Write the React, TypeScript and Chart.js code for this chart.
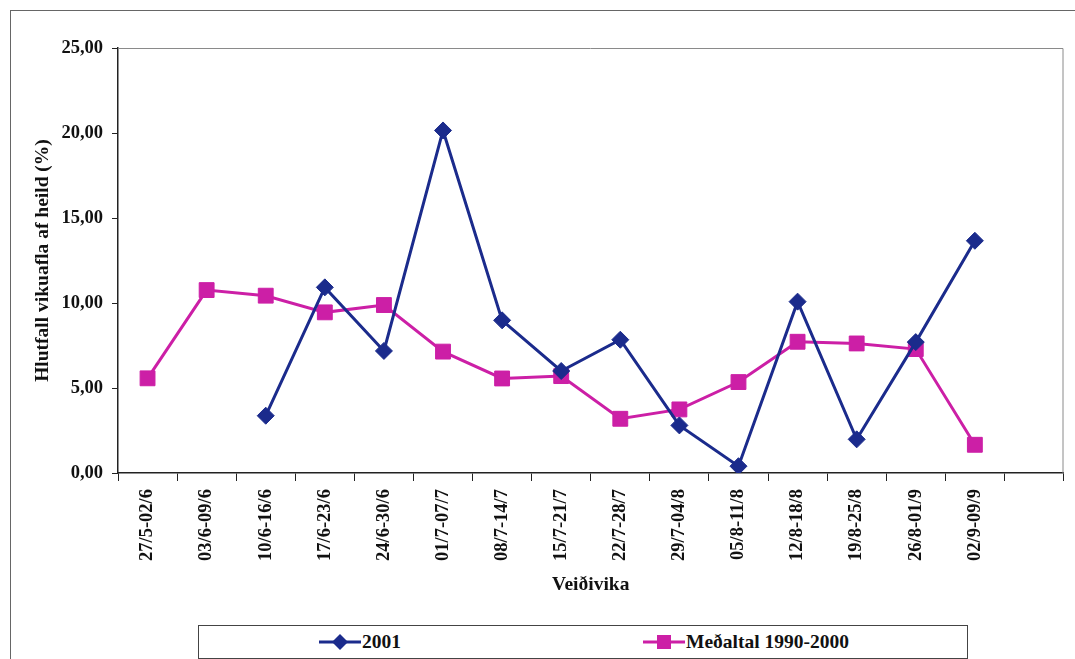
import React, { useEffect, useRef } from 'react';
import { Chart, registerables } from 'chart.js';

Chart.register(...registerables);

// ---- data ----
const categories: string[] = [
  '27/5-02/6', '03/6-09/6', '10/6-16/6', '17/6-23/6', '24/6-30/6', '01/7-07/7',
  '08/7-14/7', '15/7-21/7', '22/7-28/7', '29/7-04/8', '05/8-11/8', '12/8-18/8',
  '19/8-25/8', '26/8-01/9', '02/9-09/9', '',
];
const series2001: (number | null)[] = [
  null, null, 3.37, 10.92, 7.18, 20.15, 8.98, 6.0, 7.84, 2.8, 0.4, 10.08, 1.98, 7.7, 13.66, null,
];
const seriesMean: (number | null)[] = [
  5.57, 10.76, 10.43, 9.45, 9.88, 7.14, 5.56, 5.7, 3.19, 3.74, 5.35, 7.72, 7.62, 7.29, 1.66, null,
];
const label2001 = '2001';
const labelMean = 'Meðaltal 1990-2000';
const yMin = 0;
const yMax = 25;
const yStep = 5;
const xTitle = 'Veiðivika';
const yTitle = 'Hlutfall vikuafla af heild (%)';

const NAVY = '#1b2b8c';
const MAGENTA = '#cc1fa6';
const FONT = '"Liberation Serif", "Times New Roman", serif';

const W = 1075;
const H = 659;
const AREA = { left: 118, top: 48, right: 1072, bottom: 473 };

const framePlugin = {
  id: 'frame',
  beforeDatasetsDraw(chart: any) {
    const { ctx, chartArea } = chart;
    ctx.save();
    ctx.strokeStyle = '#8a8a8a';
    ctx.lineWidth = 1;
    ctx.beginPath();
    ctx.moveTo(chartArea.left, chartArea.top + 0.5);
    ctx.lineTo(chartArea.right - 0.5, chartArea.top + 0.5);
    ctx.lineTo(chartArea.right - 0.5, chartArea.bottom);
    ctx.stroke();
    ctx.restore();
  },
};

function LegendSample({ color, shape }: { color: string; shape: 'diamond' | 'square' }) {
  return (
    <svg width={42} height={20} style={{ display: 'block' }}>
      <line x1={0} y1={10} x2={42} y2={10} stroke={color} strokeWidth={3} />
      {shape === 'diamond' ? (
        <polygon points="21,2 29,10 21,18 13,10" fill={color} />
      ) : (
        <rect x={14} y={3} width={14} height={14} fill={color} />
      )}
    </svg>
  );
}

export default function App() {
  const ref = useRef<HTMLCanvasElement | null>(null);

  useEffect(() => {
    if (!ref.current) return;
    const chart = new Chart(ref.current, {
      type: 'line',
      data: {
        labels: categories,
        datasets: [
          {
            label: label2001,
            data: series2001,
            borderColor: NAVY,
            backgroundColor: NAVY,
            borderWidth: 3,
            pointStyle: 'rectRot',
            pointRadius: 8.5,
            pointBorderWidth: 1,
            tension: 0,
            spanGaps: false,
          },
          {
            label: labelMean,
            data: seriesMean,
            borderColor: MAGENTA,
            backgroundColor: MAGENTA,
            borderWidth: 3,
            pointStyle: 'rect',
            pointRadius: 10.5,
            pointBorderWidth: 1,
            tension: 0,
          },
        ],
      },
      options: {
        animation: false,
        responsive: false,
        maintainAspectRatio: false,
        layout: { padding: { left: 0, top: AREA.top, right: W - AREA.right, bottom: 0 } },
        plugins: {
          legend: { display: false },
          tooltip: { enabled: false },
        },
        scales: {
          x: {
            type: 'category',
            offset: true,
            grid: {
              offset: true,
              drawOnChartArea: false,
              drawTicks: true,
              tickLength: 8,
              color: '#222',
              lineWidth: 1,
            },
            border: { display: true, color: '#222', width: 1.5 },
            ticks: {
              autoSkip: false,
              maxRotation: 90,
              minRotation: 90,
              padding: 8,
              color: '#111',
              font: { family: FONT, size: 18.5, weight: 'bold' },
            },
            title: {
              display: true,
              text: xTitle,
              color: '#111',
              font: { family: FONT, size: 19.5, weight: 'bold' },
              padding: { top: 0, bottom: 62 },
            },
            afterFit: (s: any) => {
              s.height = H - AREA.bottom;
            },
          },
          y: {
            min: yMin,
            max: yMax,
            grid: {
              drawOnChartArea: false,
              drawTicks: true,
              tickLength: 6,
              color: '#222',
            },
            border: { display: true, color: '#222', width: 1.5 },
            ticks: {
              stepSize: yStep,
              padding: 9,
              color: '#111',
              font: { family: FONT, size: 18.5, weight: 'bold' },
              callback: (v: any) => Number(v).toFixed(2).replace('.', ','),
            },
            title: {
              display: true,
              text: yTitle,
              color: '#111',
              font: { family: FONT, size: 19.5, weight: 'bold' },
              padding: { top: 31, bottom: 0 },
            },
            afterFit: (s: any) => {
              s.width = AREA.left;
            },
          },
        },
      },
      plugins: [framePlugin],
    });
    return () => chart.destroy();
  }, []);

  const textStyle: React.CSSProperties = {
    position: 'absolute',
    top: 5,
    fontFamily: FONT,
    fontWeight: 'bold',
    fontSize: 19.5,
    lineHeight: '22px',
    color: '#111',
    whiteSpace: 'nowrap',
  };

  return (
    <div style={{ position: 'fixed', left: 0, top: 0, width: W, height: H, background: '#fff', overflow: 'hidden' }}>
      <div
        style={{
          position: 'absolute',
          left: 10,
          top: 10,
          width: W,
          height: H,
          borderLeft: '1px solid #666',
          borderTop: '1px solid #666',
        }}
      />
      <canvas ref={ref} width={W} height={H} style={{ position: 'absolute', left: 0, top: 0, width: W, height: H }} />
      <div
        style={{
          position: 'absolute',
          left: 198,
          top: 625,
          width: 768,
          height: 32,
          border: '1px solid #444',
          background: '#fff',
        }}
      >
        <div style={{ position: 'absolute', left: 120, top: 6 }}>
          <LegendSample color={NAVY} shape="diamond" />
        </div>
        <div style={{ ...textStyle, left: 163 }}>{label2001}</div>
        <div style={{ position: 'absolute', left: 444, top: 6 }}>
          <LegendSample color={MAGENTA} shape="square" />
        </div>
        <div style={{ ...textStyle, left: 487 }}>{labelMean}</div>
      </div>
    </div>
  );
}
